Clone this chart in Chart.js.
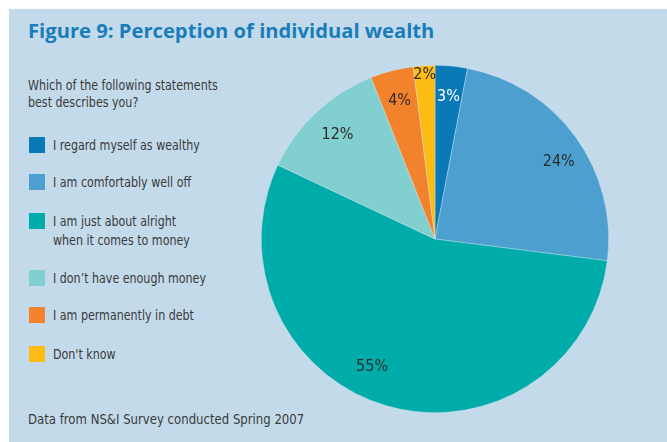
<!DOCTYPE html>
<html>
<head>
<meta charset="utf-8">
<script src="https://cdn.jsdelivr.net/npm/chart.js@4"></script>
<style>
  html, body { margin: 0; padding: 0; background: #fff; }
  #panel {
    position: absolute; left: 9px; top: 9px; width: 658px; height: 433px;
    background: #c3daeb; overflow: hidden;
    font-family: "DejaVu Sans Condensed", "Open Sans", sans-serif;
    color: #3a3a3a;
  }
  #title {
    position: absolute; left: 19px; top: 7px; margin: 0;
    font-family: "Open Sans", sans-serif; font-weight: 700; font-size: 20.2px;
    color: #1a7dba; white-space: nowrap;
  }
  .narrow { transform: scaleX(0.88); transform-origin: 0 0; white-space: nowrap; }
  #question { position: absolute; left: 19px; top: 68px; font-size: 14px; line-height: 17px; }
  #legend { position: absolute; left: 20px; top: 0; font-size: 14px; }
  .item { position: absolute; left: 0; white-space: nowrap; }
  .swatch { position: absolute; left: 0; top: 0; width: 16px; height: 16px; }
  .label { position: absolute; left: 24px; top: -1px; line-height: 19px; }
  #footer { position: absolute; left: 19px; top: 402px; font-size: 14px; transform: scaleX(0.93); transform-origin: 0 0; white-space: nowrap; }
  #pieBox { position: absolute; left: 252px; top: 56px; width: 348px; height: 348px; }
</style>
</head>
<body>
<div id="panel">
  <h1 id="title">Figure 9: Perception of individual wealth</h1>
  <div id="question" class="narrow">Which of the following statements<br>best describes you?</div>
  <div id="legend"></div>
  <div id="footer">Data from NS&amp;I Survey conducted Spring 2007</div>
  <div id="pieBox"><canvas id="pie" width="348" height="348"></canvas></div>
</div>
<script>
// survey answers, clockwise from 12 o'clock
const categories = [
  'I regard myself as wealthy',
  'I am comfortably well off',
  'I am just about alright\nwhen it comes to money',
  'I don\u2019t have enough money',
  'I am permanently in debt',
  "Don't know"
];
const shares = [3, 24, 55, 12, 4, 2];
const sliceColours = ['#0a79b7', '#4d9fd0', '#00aca9', '#82cfd0', '#f3822c', '#fcbc13'];
const labelColours = ['#ffffff', '#2c2c2c', '#2c2c2c', '#2c2c2c', '#2c2c2c', '#2c2c2c'];

// where each percentage sits: fraction of radius, and a small turn in degrees
const labelRadius = [0.82, 0.84, 0.82, 0.82, 0.82, 0.945];
const labelTurn = [0, 4, 10, 0, 0, 0];
const legendTops = [128, 165, 204, 261, 298, 337];

// legend on the left
const legend = document.getElementById('legend');
categories.forEach((name, i) => {
  const item = document.createElement('div');
  item.className = 'item';
  item.style.top = legendTops[i] + 'px';
  item.innerHTML = `<div class="swatch" style="background:${sliceColours[i]}"></div>` +
    `<div class="label narrow">${name.replace('\n', '<br>')}</div>`;
  legend.appendChild(item);
});

const pieLabels = {
  id: 'pieLabels',
  afterDatasetsDraw(chart) {
    const ctx = chart.ctx;
    const meta = chart.getDatasetMeta(0);
    ctx.save();
    ctx.font = '16px "DejaVu Sans Condensed", "Open Sans", sans-serif';
    ctx.textAlign = 'center';
    ctx.textBaseline = 'middle';
    meta.data.forEach((arc, i) => {
      const mid = (arc.startAngle + arc.endAngle) / 2 + labelTurn[i] * Math.PI / 180;
      const r = arc.outerRadius * labelRadius[i];
      ctx.fillStyle = labelColours[i];
      ctx.fillText(shares[i] + '%', arc.x + Math.cos(mid) * r, arc.y + Math.sin(mid) * r);
    });
    ctx.restore();
  }
};

new Chart(document.getElementById('pie'), {
  type: 'pie',
  data: {
    labels: categories,
    datasets: [{
      data: shares,
      backgroundColor: sliceColours,
      borderColor: 'rgba(220,235,245,0.6)',
      borderWidth: 0.6
    }]
  },
  options: {
    responsive: false,
    animation: false,
    layout: { padding: 0 },
    plugins: { legend: { display: false }, tooltip: { enabled: false } }
  },
  plugins: [pieLabels]
});
</script>
</body>
</html>
